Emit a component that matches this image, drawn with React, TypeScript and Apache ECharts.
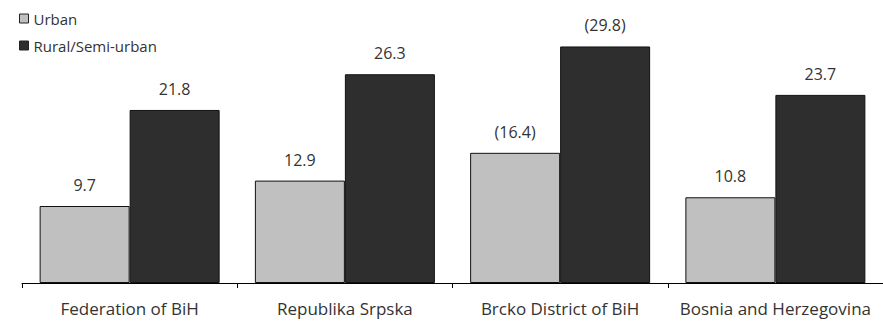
import React, { useEffect, useRef } from "react";
import * as echarts from "echarts";

const categories = ["Federation of BiH", "Republika Srpska", "Brcko District of BiH", "Bosnia and Herzegovina"];
const urban = [9.7, 12.9, 16.4, 10.8];
const rural = [21.8, 26.3, 29.8, 23.7];
const parenthesized = [false, false, true, false];
const seriesNames = ["Urban", "Rural/Semi-urban"];

const FONT = "'Open Sans', 'Noto Sans', sans-serif";

export default function App() {
  const ref = useRef<HTMLDivElement>(null);
  useEffect(() => {
    const chart = echarts.init(ref.current!, null, { renderer: "svg" });
    const fmt = (p: any) => {
      const v = Number(p.value).toFixed(1);
      return parenthesized[p.dataIndex] ? `(${v})` : v;
    };
    const label = {
      show: true,
      position: "top",
      distance: 13,
      formatter: fmt,
      color: "#333",
      fontSize: 16,
      fontFamily: FONT,
    };
    chart.setOption({
      animation: false,
      backgroundColor: "#fff",
      legend: {
        orient: "vertical",
        left: 14,
        top: 6,
        itemWidth: 9,
        itemHeight: 9,
        itemGap: 12,
        itemStyle: { borderColor: "#222", borderWidth: 1 },
        icon: "rect",
        textStyle: { color: "#333", fontSize: 15, fontFamily: FONT },
        data: seriesNames,
      },
      grid: { left: 22, right: -1, top: 29, bottom: 42, containLabel: false },
      xAxis: {
        type: "category",
        data: categories,
        axisLine: { lineStyle: { color: "#000", width: 1 } },
        axisTick: { show: true, length: 5, lineStyle: { color: "#000" } },
        axisLabel: { color: "#333", fontSize: 17, fontFamily: FONT, margin: 17, interval: 0, hideOverlap: false },
      },
      yAxis: {
        type: "value",
        min: 0,
        max: 32,
        show: false,
        splitLine: { show: false },
      },
      series: [
        {
          name: seriesNames[0],
          type: "bar",
          data: urban,
          barWidth: 90,
          barGap: "0%",
          itemStyle: { color: "#c0c0c0", borderColor: "#111", borderWidth: 1 },
          label,
        },
        {
          name: seriesNames[1],
          type: "bar",
          data: rural,
          barWidth: 90,
          barGap: "0%",
          itemStyle: { color: "#2e2e2e", borderColor: "#111", borderWidth: 1 },
          label,
        },
      ],
    });
    return () => chart.dispose();
  }, []);
  return <div ref={ref} style={{ width: 883, height: 325, position: "absolute", left: 0, top: 0 }} />;
}
